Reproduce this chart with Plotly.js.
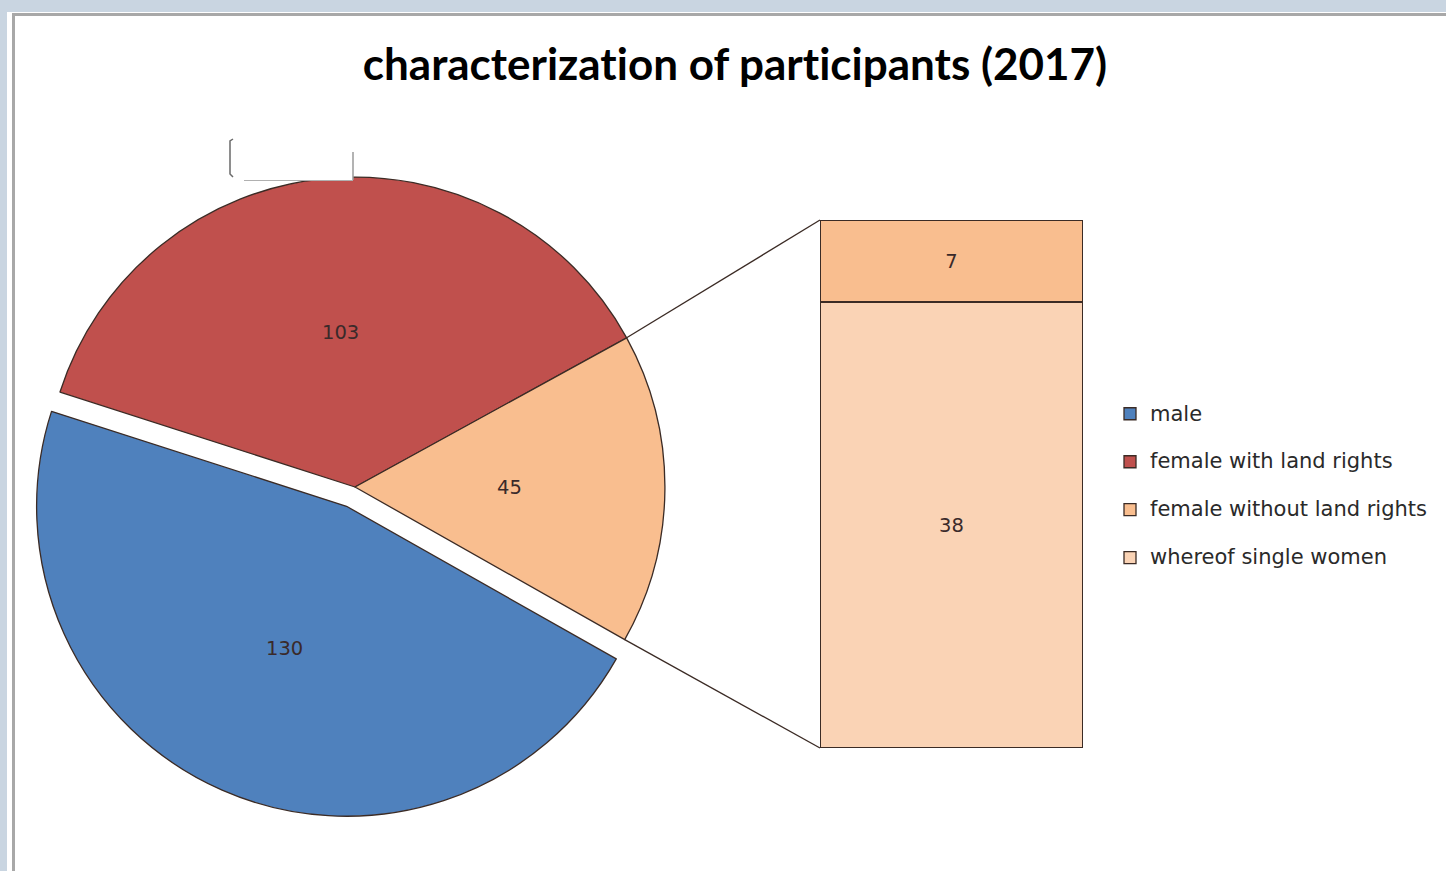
<!DOCTYPE html>
<html>
<head>
<meta charset="utf-8">
<script src="https://cdn.plot.ly/plotly-3.0.1.min.js"></script>
<style>html,body{margin:0;padding:0;background:#C9D5E1;}#chart{width:1446px;height:871px;}
.gtitle{font-variant-ligatures:none;font-feature-settings:"liga" 0;}</style>
</head>
<body>
<div id="chart"></div>
<script>
// ---- data ----
const categories = ['male', 'female with land rights', 'female without land rights', 'whereof single women'];
const values = [130, 103, 7, 38];
const pieCategories = ['male', 'female with land rights', 'female without land rights'];
const barCategories = ['female without land rights', 'whereof single women'];
const titleText = 'characterization of participants (2017)';

// ---- styles ----
const W = 1446, H = 871;
const colors = {
  'male': '#4F81BD',
  'female with land rights': '#C0504D',
  'female without land rights': '#F9BE8F',
  'whereof single women': '#FAD3B5'
};
const edge = '#3b2b25';
const labelFont = {family: 'DejaVu Sans', size: 19.5, color: '#3a2a2a'};

// pie values: the third slice is the split-out group shown in the bar
const barValues = barCategories.map(c => values[categories.indexOf(c)]);
const otherTotal = barValues.reduce((a, b) => a + b, 0);
const pieValues = [values[0], values[1], otherTotal];
const total = pieValues.reduce((a, b) => a + b, 0);

// pie geometry (pixels -> domain)
const pieBox = {x0: 24, x1: 686, y0: 156, y1: 818};
const pullAmt = 0.068;
const pulls = [pullAmt, 0, 0];
const rotation = 119.5;
const pieDomain = {x: [pieBox.x0 / W, pieBox.x1 / W], y: [1 - pieBox.y1 / H, 1 - pieBox.y0 / H]};
const barDomX = [820 / W, 1083 / W];
const barDomY = [1 - 748 / H, 1 - 220 / H];

const legendLabel = l => '<span style="font-size:21px">' + l + '</span><br> ';

const pieTrace = {
  type: 'pie',
  labels: pieCategories.map(legendLabel),
  values: pieValues,
  sort: false,
  direction: 'clockwise',
  rotation: rotation,
  pull: pulls,
  domain: pieDomain,
  marker: {colors: pieCategories.map(c => colors[c]), line: {color: edge, width: 1.3}},
  textinfo: 'none',
  hoverinfo: 'label+value',
  showlegend: true
};

// stacked bar: bottom = single women, top = rest
const barBottom = {
  type: 'bar', x: ['group'], y: [barValues[1]],
  name: legendLabel(barCategories[1]),
  marker: {color: colors[barCategories[1]], line: {color: edge, width: 1.3}},
  text: [String(barValues[1])], textposition: 'inside', insidetextanchor: 'middle',
  textfont: labelFont, textangle: 0,
  xaxis: 'x', yaxis: 'y', showlegend: true, hoverinfo: 'y'
};
const barTop = {
  type: 'bar', x: ['group'], y: [barValues[0]],
  name: legendLabel(barCategories[0]),
  marker: {color: colors[barCategories[0]], line: {color: edge, width: 1.3}},
  text: [String(barValues[0])], textposition: 'inside', insidetextanchor: 'middle',
  textfont: labelFont, textangle: 0,
  xaxis: 'x', yaxis: 'y', showlegend: false, hoverinfo: 'y'
};

// pie geometry in pixels, as Plotly computes it
const cx = W * (pieDomain.x[0] + pieDomain.x[1]) / 2;
const cy = H * (1 - (pieDomain.y[0] + pieDomain.y[1]) / 2);
const r = Math.min((pieBox.x1 - pieBox.x0), (pieBox.y1 - pieBox.y0)) / 2 / (1 + pullAmt);
const toPaper = (px, py) => [px / W, 1 - py / H];
const polar = (a, rad0, ox, oy) => {
  const t = a * Math.PI / 180;
  return [ox + rad0 * Math.sin(t), oy - rad0 * Math.cos(t)];
};

// slice value labels placed at half radius along each slice's mid-angle
const annotations = [];
let acc = 0;
pieValues.forEach((v, i) => {
  const a0 = rotation + 360 * acc / total;
  acc += v;
  const a1 = rotation + 360 * acc / total;
  const mid = (a0 + a1) / 2;
  const off = polar(mid, pulls[i] * r, cx, cy);
  const p = polar(mid, r * 0.5, off[0], off[1]);
  const pp = toPaper(p[0], p[1]);
  annotations.push({xref: 'paper', yref: 'paper', x: pp[0], y: pp[1], xanchor: 'center', yanchor: 'middle',
    text: String(v), showarrow: false, font: labelFont});
});

// connector lines from the split-out slice edges to the bar corners
const angStart = rotation + 360 * (pieValues[0] + pieValues[1]) / total;
const angEnd = rotation + 360;
const q1 = polar(angStart, r, cx, cy), q2 = polar(angEnd, r, cx, cy);
const p1 = toPaper(q1[0], q1[1]), p2 = toPaper(q2[0], q2[1]);

const shapes = [
  // frame
  {type: 'rect', xref: 'paper', yref: 'paper', x0: 7 / W, x1: 1.01, y0: -0.01, y1: 1 - 12 / H,
   fillcolor: '#ffffff', line: {width: 0}, layer: 'below'},
  {type: 'line', xref: 'paper', yref: 'paper', x0: 12 / W, x1: 1.01, y0: 1 - 14.5 / H, y1: 1 - 14.5 / H,
   line: {color: '#A8A8A8', width: 3}, layer: 'below'},
  {type: 'line', xref: 'paper', yref: 'paper', x0: 13.5 / W, x1: 13.5 / W, y0: -0.01, y1: 1 - 13 / H,
   line: {color: '#A8A8A8', width: 3}, layer: 'below'},
  // connectors
  {type: 'line', xref: 'paper', yref: 'paper', x0: p1[0], y0: p1[1], x1: barDomX[0], y1: barDomY[1],
   line: {color: edge, width: 1.3}, layer: 'above'},
  {type: 'line', xref: 'paper', yref: 'paper', x0: p2[0], y0: p2[1], x1: barDomX[0], y1: barDomY[0],
   line: {color: edge, width: 1.3}, layer: 'above'},
  // leftover empty label box above the pie
  {type: 'rect', xref: 'paper', yref: 'paper', x0: 234 / W, x1: 353 / W, y0: 1 - 180 / H, y1: 1 - 137 / H,
   fillcolor: '#ffffff', line: {width: 0}, layer: 'above'},
  {type: 'path', xref: 'paper', yref: 'paper',
   path: 'M' + (233 / W) + ',' + (1 - 139 / H) + ' L' + (230 / W) + ',' + (1 - 141 / H) +
         ' L' + (230 / W) + ',' + (1 - 174 / H) + ' L' + (233 / W) + ',' + (1 - 177 / H),
   line: {color: '#6a6a6a', width: 1.5}, layer: 'above'},
  {type: 'line', xref: 'paper', yref: 'paper', x0: 353 / W, x1: 353 / W, y0: 1 - 180 / H, y1: 1 - 152 / H,
   line: {color: '#9a9a9a', width: 1.5}, layer: 'above'},
  {type: 'line', xref: 'paper', yref: 'paper', x0: 244 / W, x1: 353 / W, y0: 1 - 180.5 / H, y1: 1 - 180.5 / H,
   line: {color: '#b0b0b0', width: 1.2}, layer: 'above'}
];

const layout = {
  width: W, height: H,
  margin: {l: 0, r: 0, t: 0, b: 0, pad: 0},
  paper_bgcolor: '#C9D5E1',
  plot_bgcolor: 'rgba(0,0,0,0)',
  title: {
    text: titleText,
    x: 735 / W, xanchor: 'center', xref: 'paper',
    y: 1 - 65 / H, yanchor: 'middle', yref: 'paper',
    font: {family: 'Lato', size: 44, weight: 700, color: '#000000'}
  },
  barmode: 'stack',
  bargap: 0,
  xaxis: {domain: barDomX, range: [-0.5, 0.5], visible: false, fixedrange: true},
  yaxis: {domain: barDomY, range: [0, otherTotal], visible: false, fixedrange: true},
  showlegend: true,
  legend: {
    x: 1110 / W, xanchor: 'left', y: 1 - 396 / H, yanchor: 'top',
    font: {family: 'DejaVu Sans', size: 17.3, color: '#2a2a2a'},
    valign: 'top', bgcolor: 'rgba(0,0,0,0)', borderwidth: 0,
    traceorder: 'normal', itemclick: false, itemdoubleclick: false
  },
  annotations: annotations,
  shapes: shapes,
  hovermode: false
};

Plotly.newPlot('chart', [pieTrace, barBottom, barTop], layout, {displayModeBar: false, staticPlot: true});
</script>
</body>
</html>
